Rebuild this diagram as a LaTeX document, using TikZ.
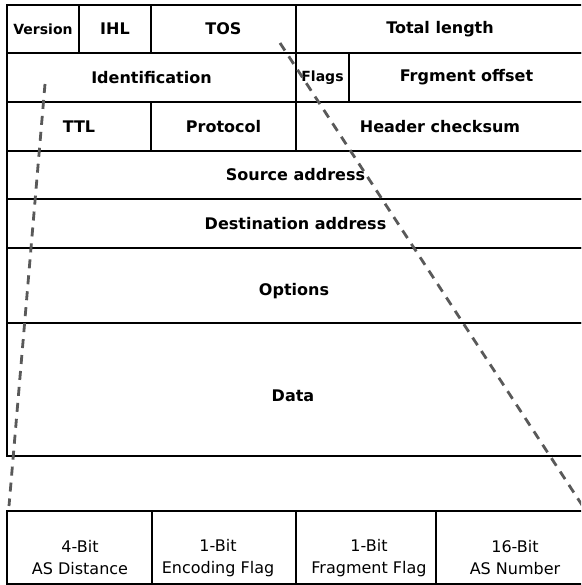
\documentclass[tikz,border=0pt]{standalone}
\usepackage{fontspec}
\setmainfont{DejaVu Sans}
\begin{document}
\begin{tikzpicture}[x=1pt,y=-1pt,
  cell/.style={draw=black, line width=2.6pt, inner sep=0pt, font=\bfseries\fontsize{16}{19}\selectfont},
  smalltxt/.style={font=\bfseries\fontsize{14}{17}\selectfont},
  lbl/.style={inner sep=0pt, font=\bfseries\fontsize{16}{19}\selectfont},
  bcell/.style={draw=black, line width=2pt, inner sep=0pt, minimum height=73pt},
  blbl/.style={inner sep=0pt, align=center, font=\fontsize{16}{22}\selectfont},
  guide/.style={draw=black!65, line width=2.8pt, dash pattern=on 9pt off 7pt}]
\useasboundingbox (0,0) rectangle (581,585);
\clip (0,0) rectangle (581,585);
\fill[white] (0,0) rectangle (581,585);
% row 1
\node[cell, smalltxt, minimum width=72pt, minimum height=48pt] (ver) at (43,29) {Version};
\node[cell, minimum width=72pt, minimum height=48pt] (ihl) at (115,29) {IHL};
\node[cell, minimum width=145pt, minimum height=48pt] (tos) at (223.5,29) {TOS};
\node[cell, minimum width=288pt, minimum height=48pt] (tlen) at (440,29) {Total length};
% row 2
\node[cell, minimum width=289pt, minimum height=49pt] (ident) at (151.5,77.5) {Identification};
\node[cell, smalltxt, minimum width=53pt, minimum height=49pt] (flags) at (322.5,77.5) {Flags};
\node[cell, minimum width=235pt, minimum height=49pt] (frag) at (466.5,77.5) {Frgment offset};
% row 3
\node[cell, minimum width=144pt, minimum height=49pt] (ttl) at (79,126.5) {TTL};
\node[cell, minimum width=145pt, minimum height=49pt] (proto) at (223.5,126.5) {Protocol};
\node[cell, minimum width=288pt, minimum height=49pt] (hcs) at (440,126.5) {Header checksum};
% full rows
\node[cell, minimum width=577pt, minimum height=48pt] (src) at (295.5,175) {Source address};
\node[cell, minimum width=577pt, minimum height=49pt] (dst) at (295.5,223.5) {Destination address};
\node[cell, minimum width=577pt, minimum height=75pt] (opt) at (295.5,285.5) {};
\node[lbl] (optl) at (294,291) {Options};
\node[cell, minimum width=577pt, minimum height=133pt] (data) at (295.5,389.5) {};
\node[lbl] (datal) at (293,396) {Data};
% bottom table
\node[bcell, minimum width=145pt] (asd) at (79.5,547.5) {};
\node[bcell, minimum width=144pt] (enc) at (224,547.5) {};
\node[bcell, minimum width=140pt] (frf) at (366,547.5) {};
\node[bcell, minimum width=154pt] (asn) at (513,547.5) {};
\node[blbl] at (80,558) {4-Bit\\AS Distance};
\node[blbl] at (218,558) {1-Bit\\Encoding Flag};
\node[blbl] at (369,558) {1-Bit\\Fragment Flag};
\node[blbl] at (515,558) {16-Bit\\AS Number};
% dashed guides
\coordinate (gl1) at (45,84);
\coordinate (gl2) at (9,506);
\coordinate (gr1) at (280,43);
\coordinate (gr2) at (582,505);
\draw[guide] (gl1) -- (gl2);
\draw[guide] (gr1) -- (gr2);
\end{tikzpicture}
\end{document}
